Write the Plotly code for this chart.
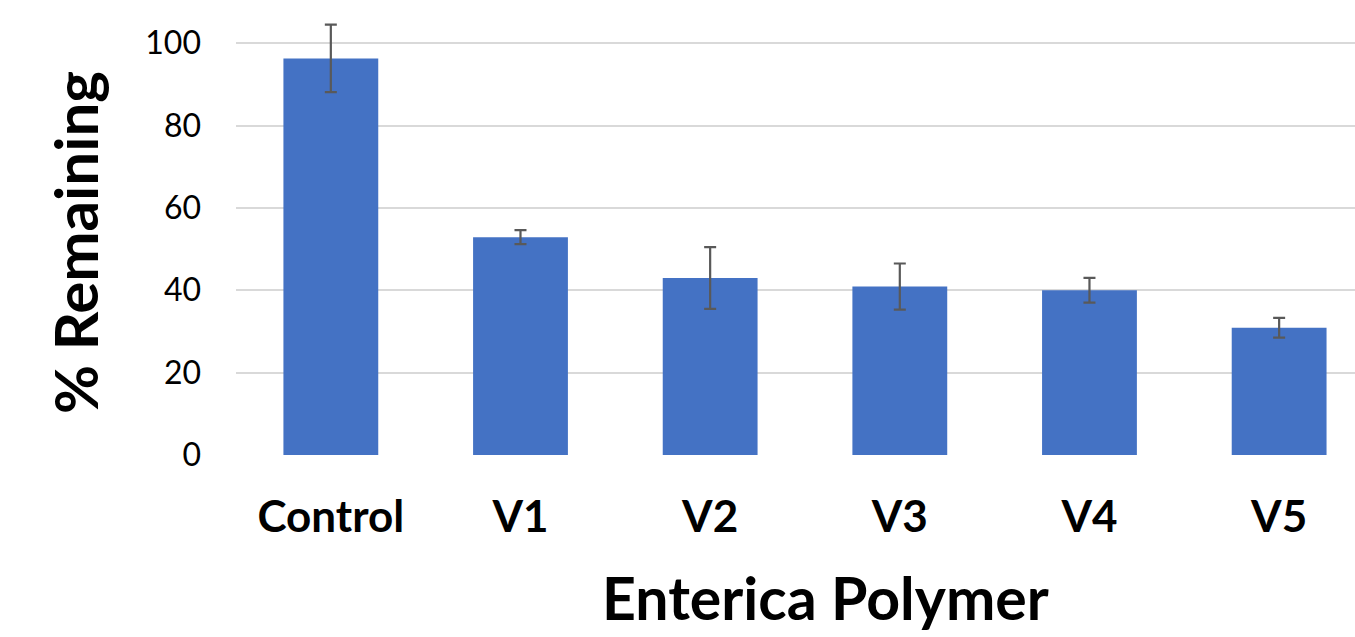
import plotly.graph_objects as go

categories = ["Control", "V1", "V2", "V3", "V4", "V5"]
values = [96.3, 52.9, 43.0, 40.9, 40.0, 30.9]
errors = [8.2, 1.7, 7.5, 5.6, 3.0, 2.4]
y_ticks = [0, 20, 40, 60, 80, 100]

W, H = 1355, 637
L, R, T, B = 236, 0, 2, 182

fig = go.Figure()
fig.add_trace(go.Bar(
    x=categories, y=values, width=0.5,
    marker=dict(color="#4472C4", line=dict(width=0)),
    error_y=dict(type="data", array=errors, visible=True,
                 color="#595959", thickness=2.2, width=6),
    cliponaxis=False,
))

fig.update_layout(
    width=W, height=H,
    margin=dict(l=L, r=R, t=T, b=B),
    paper_bgcolor="white", plot_bgcolor="white",
    showlegend=False,
    bargap=0.5,
    font=dict(family="Lato", color="black"),
    xaxis=dict(
        type="category", range=[-0.5, 5.4],
        showgrid=False, zeroline=False, showline=False,
        ticks="", ticklabelstandoff=32,
        tickfont=dict(family="Lato", size=44, color="black", weight="bold"),
    ),
    yaxis=dict(
        range=[0, 110], tickvals=y_ticks,
        showgrid=True, gridcolor="#d9d9d9", gridwidth=2,
        zeroline=False, showline=False, ticks="",
        ticklabelstandoff=34,
        tickfont=dict(family="Lato", size=32, color="black"),
    ),
    annotations=[
        dict(text="<b>% Remaining</b>", textangle=-90, showarrow=False,
             xref="paper", yref="paper",
             x=(75 - L) / (W - L - R), y=(455 - 243) / (H - T - B),
             xanchor="center", yanchor="middle",
             font=dict(family="Lato", size=60, color="black")),
        dict(text="<b>Enterica Polymer</b>", showarrow=False,
             xref="paper", yref="paper",
             x=(825 - L) / (W - L - R), y=(455 - 597) / (H - T - B),
             xanchor="center", yanchor="middle",
             font=dict(family="Lato", size=59, color="black")),
    ],
)

fig.write_html(
    "out.html",
    config={"displayModeBar": False},
    post_script="document.body.style.margin='0';document.body.style.overflow='hidden';",
)
